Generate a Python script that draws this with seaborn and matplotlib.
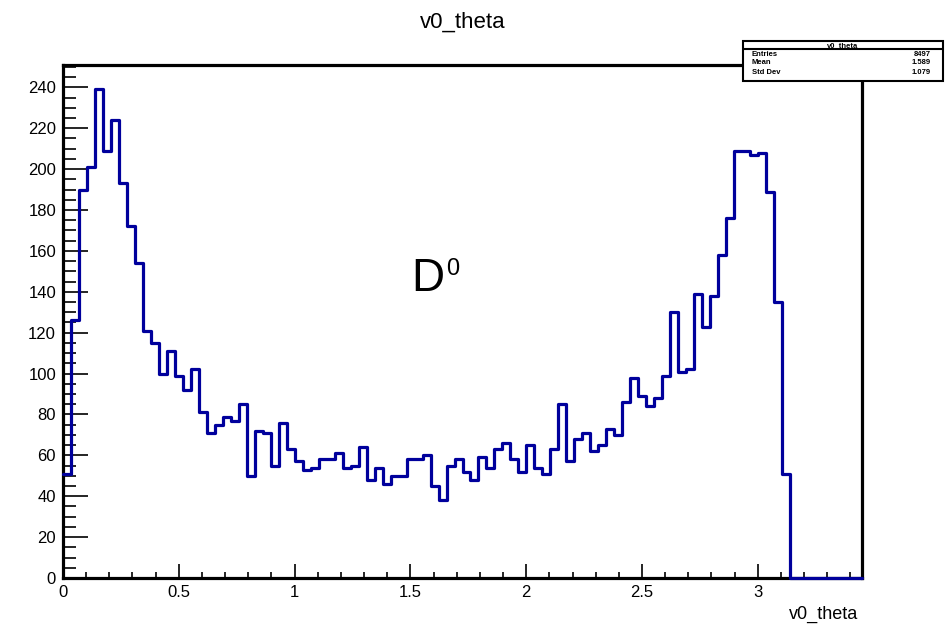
import numpy as np
import pandas as pd
import matplotlib
matplotlib.use("Agg")
import matplotlib.pyplot as plt
import seaborn as sns
from matplotlib.ticker import MultipleLocator

# ---- data ----
x_min, x_max, n_bins = 0.0, 3.45, 100
counts = [51, 126, 190, 201, 239, 209, 224, 193, 172, 154,
          121, 115, 100, 111, 99, 92, 102, 81, 71, 75,
          79, 77, 85, 50, 72, 71, 55, 76, 63, 57,
          53, 54, 58, 58, 61, 54, 55, 64, 48, 54,
          46, 50, 50, 58, 58, 60, 45, 38, 55, 58,
          52, 48, 59, 54, 63, 66, 58, 52, 65, 54,
          51, 63, 85, 57, 68, 71, 62, 65, 73, 70,
          86, 98, 89, 84, 88, 99, 130, 101, 102, 139,
          123, 138, 158, 176, 209, 209, 207, 208, 189, 135,
          51, 0, 0, 0, 0, 0, 0, 0, 0, 0]
x_ticks = [0, 0.5, 1, 1.5, 2, 2.5, 3]
x_tick_labels = ["0", "0.5", "1", "1.5", "2", "2.5", "3"]
y_ticks = [0, 20, 40, 60, 80, 100, 120, 140, 160, 180, 200, 220, 240]
title = "v0_theta"
x_title = "v0_theta"
stats_labels = ["Entries", "Mean", "Std Dev"]
stats_values = ["8497", "1.589", "1.079"]

edges = np.linspace(x_min, x_max, n_bins + 1)
centers = 0.5 * (edges[:-1] + edges[1:])
df = pd.DataFrame({"x": centers, "w": counts})

sns.set_style("white")
plt.rcParams["font.family"] = ["Liberation Sans", "DejaVu Sans"]
plt.rcParams["text.color"] = "black"
plt.rcParams["xtick.color"] = "black"
plt.rcParams["ytick.color"] = "black"

fig = plt.figure(figsize=(9.51, 6.28), dpi=100)
ax = fig.add_axes([63 / 951, 1 - 578 / 628, (862 - 63) / 951, (578 - 65) / 628])

sns.histplot(data=df, x="x", weights="w", bins=[float(e) for e in edges],
             element="step", fill=False, color="#00009c", linewidth=2.3,
             zorder=3, clip_on=False, ax=ax)

ax.set_xlim(x_min, x_max)
ax.set_ylim(0, 1.05 * max(counts))
ax.set_ylabel("")
ax.set_xlabel("")

for s in ax.spines.values():
    s.set_linewidth(2.3)
    s.set_color("black")

ax.set_xticks(x_ticks)
ax.set_xticklabels(x_tick_labels)
ax.set_yticks(y_ticks)
ax.xaxis.set_minor_locator(MultipleLocator(0.1))
ax.yaxis.set_minor_locator(MultipleLocator(5))
ax.tick_params(axis="x", which="major", direction="in", length=10, width=1.2,
               labelsize=12, pad=5, bottom=True, top=False, colors="black")
ax.tick_params(axis="x", which="minor", direction="in", length=4.5, width=1.2,
               bottom=True, top=False, colors="black")
ax.tick_params(axis="y", which="major", direction="in", length=18, width=1.2,
               labelsize=12, pad=5, left=True, right=False, colors="black")
ax.tick_params(axis="y", which="minor", direction="in", length=9, width=1.2,
               left=True, right=False, colors="black")

fig.text(463 / 951, 1 - 22 / 628, title, ha="center", va="center", fontsize=16,
         color="black")
fig.text(858 / 951, 1 - 614 / 628, x_title, ha="right", va="center", fontsize=13,
         color="black")

# D0 label
ax.text(0.436, 0.560, "D", transform=ax.transAxes, fontsize=33, ha="left",
        va="baseline", color="black")
ax.text(0.480, 0.591, "0", transform=ax.transAxes, fontsize=17, ha="left",
        va="baseline", color="black")

# stats box
bx0, bx1 = 743 / 951, 943 / 951
by0, by1 = 1 - 80.5 / 628, 1 - 41.5 / 628
sep = 1 - 49 / 628
fig.patches.append(plt.Rectangle((bx0, by0), bx1 - bx0, by1 - by0, transform=fig.transFigure,
                                 facecolor="white", edgecolor="black", linewidth=1.5, zorder=10))
fig.lines.append(plt.Line2D([bx0, bx1], [sep, sep], transform=fig.transFigure,
                            color="black", linewidth=1.5, zorder=11))
fig.text((bx0 + bx1) / 2, 1 - 45.3 / 628, title, ha="center", va="center", fontsize=5.5,
         fontweight="bold", zorder=12)
row_y = [54, 62.5, 73]
for lab, val, yy in zip(stats_labels, stats_values, row_y):
    fig.text(752 / 951, 1 - yy / 628, lab, ha="left", va="center", fontsize=5.5,
             fontweight="bold", zorder=12)
    fig.text(931 / 951, 1 - yy / 628, val, ha="right", va="center", fontsize=5.5,
             fontweight="bold", zorder=12)

fig.savefig("out.png", dpi=100)
